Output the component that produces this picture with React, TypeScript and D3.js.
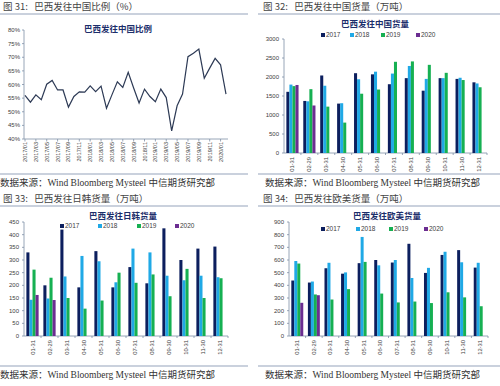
import React from "react";
import * as d3 from "d3";

// 图31 巴西发往中国比例（%）
const ratioDates = [
  "2017/01", "2017/02", "2017/03", "2017/04", "2017/05", "2017/06", "2017/07", "2017/08",
  "2017/09", "2017/10", "2017/11", "2017/12", "2018/01", "2018/02", "2018/03", "2018/04",
  "2018/05", "2018/06", "2018/07", "2018/08", "2018/09", "2018/10", "2018/11", "2018/12",
  "2019/01", "2019/02", "2019/03", "2019/04", "2019/05", "2019/06", "2019/07", "2019/08",
  "2019/09", "2019/10", "2019/11", "2019/12", "2020/01", "2020/02",
];
const ratioValues = [
  56, 53.5, 56.2, 54.4, 60.1, 61.5, 58, 58, 51.7, 55.6, 57.3, 57.2, 59.5, 57.4, 59.4, 51.3,
  56.2, 61, 58.9, 64.5, 58.7, 53.2, 58.3, 55.6, 53.7, 58.3, 55.2, 43, 52.2, 56.5, 70.2, 71.5,
  73, 62.3, 66, 69.6, 67.2, 56.5,
];
const ratioTicks = [40, 45, 50, 55, 60, 65, 70, 75, 80];

// 柱状图共用
const days = ["01-31", "02-29", "03-31", "04-30", "05-31", "06-30", "07-31", "08-31", "09-30", "10-31", "11-30", "12-31"];
const years = ["2017", "2018", "2019", "2020"];

// 图32 巴西发往中国货量（万吨）
const china2017 = [1610, 1370, 2040, 1300, 2100, 2070, 1810, 1970, 1640, 1970, 1950, 1860];
const china2018 = [1800, 1360, 1770, 1310, 1940, 2140, 2090, 2290, 1950, 1970, 1980, 1830];
const china2019 = [1760, 1680, 1220, 800, 1560, 1670, 2400, 2410, 2320, 2110, 1920, 1730];
const china2020 = [1790, 1250];
const chinaTicks = [0, 500, 1000, 1500, 2000, 2500, 3000];

// 图33 巴西发往日韩货量（万吨）
const jk2017 = [330, 200, 420, 192, 335, 192, 272, 208, 425, 300, 345, 353];
const jk2018 = [143, 148, 235, 316, 295, 212, 345, 330, 238, 220, 238, 232];
const jk2019 = [262, 230, 150, 108, 140, 250, 210, 243, 157, 265, 150, 228];
const jk2020 = [162, 142];
const jkTicks = [0, 50, 100, 150, 200, 250, 300, 350, 400, 450];

// 图34 巴西发往欧美货量（万吨）
const eu2017 = [438, 422, 535, 492, 575, 600, 580, 728, 498, 640, 678, 540];
const eu2018 = [592, 430, 578, 502, 782, 558, 600, 458, 538, 665, 582, 578];
const eu2019 = [572, 328, 288, 370, 585, 335, 265, 272, 260, 345, 305, 235];
const eu2020 = [262, 322];
const euTicks = [0, 100, 200, 300, 400, 500, 600, 700, 800, 900];

const colors = ["#0c1f5e", "#20a9e6", "#16b052", "#6b2d91"];
const cjk = "'Noto Sans CJK SC', sans-serif";
const axisColor = "#7f8fa6";
const textColor = "#404040";
const navy = "#1c2e6b";
const gap = "\u00a0\u00a0\u00a0";

const Frame = ({ ox, oy, header, title, tx, ty }: any) => (
  <g>
    <text x={ox === 0 ? 3 : 263} y={oy + 10} fontSize={9.5} fill="#444" fontFamily={cjk}>{header}</text>
    <line x1={ox === 0 ? 0 : 258} x2={ox === 0 ? 248 : 500} y1={oy + 14} y2={oy + 14} stroke="#b8c2d2" strokeWidth={1.5} />
    <text x={tx} y={ty + 3} fontSize={8.5} fontWeight="bold" fill={navy} textAnchor="middle" fontFamily={cjk}>{title}</text>
    <line x1={ox === 0 ? 0 : 258} x2={ox === 0 ? 248 : 500} y1={oy + 174} y2={oy + 174} stroke="#b8c2d2" strokeWidth={1.5} />
    <text x={ox === 0 ? 0 : 265} y={oy + 186} fontSize={9.5} fill="#333" fontFamily={"'Liberation Serif', 'Noto Sans CJK SC', serif"}>
      数据来源：Wind Bloomberg Mysteel 中信期货研究部
    </text>
  </g>
);

const LineChart = () => {
  const x = d3.scalePoint<string>().domain(ratioDates).range([25, 226]);
  const y = d3.scaleLinear().domain([40, 80]).range([139, 30]);
  const line = d3.line<number>().x((_, i) => x(ratioDates[i])!).y((d) => y(d));
  return (
    <g>
      <Frame ox={0} oy={0} header={`图 31:${gap}巴西发往中国比例（%）`} title="巴西发往中国比例" tx={118} ty={29} />
      <line x1={24} x2={24} y1={30} y2={139} stroke={axisColor} strokeWidth={0.8} />
      <line x1={24} x2={228} y1={139} y2={139} stroke={axisColor} strokeWidth={0.8} />
      {ratioTicks.map((t) => (
        <g key={t}>
          <line x1={22} x2={24} y1={y(t)} y2={y(t)} stroke={axisColor} strokeWidth={0.8} />
          <text x={20} y={y(t) + 2} fontSize={6} fill={textColor} textAnchor="end" fontFamily="'Liberation Sans', sans-serif">{t}%</text>
        </g>
      ))}
      {ratioDates.map((d, i) =>
        i % 2 === 0 ? (
          <g key={d}>
            <line x1={x(d)} x2={x(d)} y1={139} y2={141.5} stroke={axisColor} strokeWidth={0.8} />
            <text transform={`translate(${x(d)! + 2},${142}) rotate(-90)`} fontSize={5.5} fill={textColor} textAnchor="end" fontFamily="'Liberation Sans', sans-serif">{d}</text>
          </g>
        ) : null
      )}
      <path d={line(ratioValues)!} fill="none" stroke="#2d3a55" strokeWidth={1.2} />
    </g>
  );
};

const BarChart = ({ ox, oy, header, title, tx, ty, legendX, legendY, x0, x1, yTop, yBot, ticks, series }: any) => {
  const max = ticks[ticks.length - 1];
  const x = d3.scaleBand<string>().domain(days).range([x0, x1]).paddingInner(0.28).paddingOuter(0.14);
  const xs = d3.scaleBand<string>().domain(years).range([0, x.bandwidth()]);
  const y = d3.scaleLinear().domain([0, max]).range([yBot, yTop]);
  const step = x.step();
  return (
    <g>
      <Frame ox={ox} oy={oy} header={header} title={title} tx={tx} ty={ty} />
      {years.map((yr, i) => (
        <g key={yr}>
          <rect x={legendX[i]} y={legendY - 2} width={4} height={4} fill={colors[i]} />
          <text x={legendX[i] + 5} y={legendY + 2.2} fontSize={6.5} fill={textColor} fontFamily="'Liberation Sans', sans-serif">{yr}</text>
        </g>
      ))}
      <line x1={x0} x2={x0} y1={yTop} y2={yBot} stroke={axisColor} strokeWidth={0.8} />
      <line x1={x0} x2={x1} y1={yBot} y2={yBot} stroke={axisColor} strokeWidth={0.8} />
      {ticks.map((t: number) => (
        <g key={t}>
          <line x1={x0 - 2} x2={x0} y1={y(t)} y2={y(t)} stroke={axisColor} strokeWidth={0.8} />
          <text x={x0 - 5} y={y(t) + 2} fontSize={6} fill={textColor} textAnchor="end" fontFamily="'Liberation Sans', sans-serif">{t}</text>
        </g>
      ))}
      {days.map((d, i) => (
        <g key={d}>
          <line x1={x0 + step * (i + 1)} x2={x0 + step * (i + 1)} y1={yBot} y2={yBot + 2} stroke={axisColor} strokeWidth={0.8} />
          <text transform={`translate(${x(d)! + x.bandwidth() / 2 + 2},${yBot + 4}) rotate(-90)`} fontSize={5.8} fill={textColor} textAnchor="end" fontFamily="'Liberation Sans', sans-serif">{d}</text>
        </g>
      ))}
      {series.map((vals: number[], si: number) =>
        vals.map((v, i) => (
          <rect key={`${si}-${i}`} x={x(days[i])! + xs(years[si])!} y={y(v)} width={xs.bandwidth()} height={yBot - y(v)} fill={colors[si]} />
        ))
      )}
    </g>
  );
};

export default function App() {
  return (
    <svg width={500} height={386} style={{ position: "absolute", left: 0, top: 0, background: "#fff" }}>
      <rect width={500} height={386} fill="#fff" />
      <LineChart />
      <BarChart
        ox={250} oy={0} header={`图 32:${gap}巴西发往中国货量（万吨）`} title="巴西发往中国货量" tx={375} ty={24}
        legendX={[321, 350, 381, 416]} legendY={35} x0={284} x1={487} yTop={39} yBot={153}
        ticks={chinaTicks} series={[china2017, china2018, china2019, china2020]}
      />
      <BarChart
        ox={0} oy={192} header={`图 33:${gap}巴西发往日韩货量（万吨）`} title="巴西发往日韩货量" tx={123} ty={216}
        legendX={[60, 98, 137, 175]} legendY={226} x0={24} x1={228} yTop={222} yBot={336}
        ticks={jkTicks} series={[jk2017, jk2018, jk2019, jk2020]}
      />
      <BarChart
        ox={250} oy={192} header={`图 34:${gap}巴西发往欧美货量（万吨）`} title="巴西发往欧美货量" tx={387} ty={216}
        legendX={[321, 356, 389, 424]} legendY={229} x0={289} x1={488} yTop={222} yBot={336}
        ticks={euTicks} series={[eu2017, eu2018, eu2019, eu2020]}
      />
    </svg>
  );
}
